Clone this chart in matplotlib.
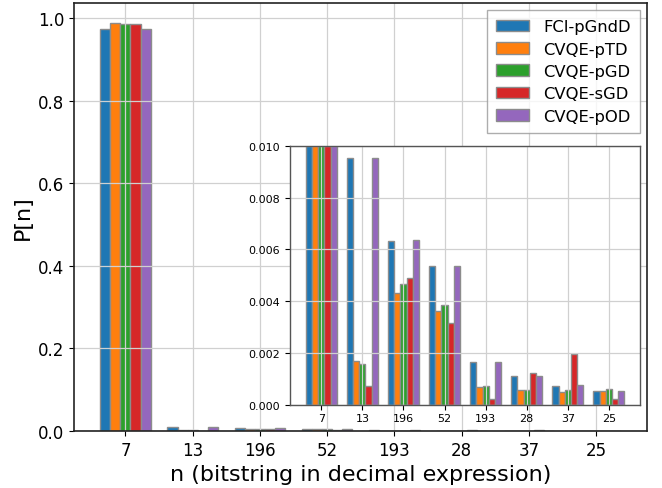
import numpy as np
import matplotlib
matplotlib.use("Agg")
import matplotlib.pyplot as plt

categories = ["7", "13", "196", "52", "193", "28", "37", "25"]
series_names = ["FCI-pGndD", "CVQE-pTD", "CVQE-pGD", "CVQE-sGD", "CVQE-pOD"]
colors = ["#1f77b4", "#ff7f0e", "#2ca02c", "#d62728", "#9467bd"]

fci_pgndd = [0.9748, 0.00953, 0.00634, 0.00537, 0.00167, 0.00113, 0.00072, 0.00053]
cvqe_ptd  = [0.9881, 0.00170, 0.00430, 0.00364, 0.00069, 0.00058, 0.00048, 0.00053]
cvqe_pgd  = [0.9874, 0.00157, 0.00468, 0.00385, 0.00073, 0.00059, 0.00057, 0.00060]
cvqe_sgd  = [0.9875, 0.00072, 0.00489, 0.00317, 0.00024, 0.00122, 0.00196, 0.00024]
cvqe_pod  = [0.9748, 0.00953, 0.00638, 0.00534, 0.00165, 0.00113, 0.00076, 0.00053]

series = [fci_pgndd, cvqe_ptd, cvqe_pgd, cvqe_sgd, cvqe_pod]

fig = plt.figure(figsize=(6.62, 4.89), dpi=100)
ax = fig.add_axes([0.112, 0.1166, 0.866, 0.8754])
x = np.arange(len(categories))
w = 0.15
for i, (name, vals, c) in enumerate(zip(series_names, series, colors)):
    ax.bar(x + (i - 2) * w, vals, w, color=c, edgecolor="#8c8c8c", linewidth=1.0, label=name)
ax.set_xticks(x)
ax.set_xticklabels(categories, fontsize=12)
ax.tick_params(axis="y", labelsize=12)
ax.grid(True, color="#d0d0d0", linewidth=0.9)
ax.set_xlabel("n (bitstring in decimal expression)", fontsize=16)
ax.set_ylabel("P[n]", fontsize=16)
for s in ax.spines.values():
    s.set_linewidth(1.2)
    s.set_color("#222222")
leg = ax.legend(loc="upper right", fontsize=11.75, fancybox=False, edgecolor="#999999",
                borderpad=0.55, labelspacing=0.45, handletextpad=0.9, borderaxespad=0.45)

ins = fig.add_axes([0.438, 0.170, 0.529, 0.530])
for i, (name, vals, c) in enumerate(zip(series_names, series, colors)):
    ins.bar(x + (i - 2) * w, vals, w, color=c, edgecolor="#8c8c8c", linewidth=1.0)
ins.set_ylim(0, 0.010)
ins.set_xticks(x)
ins.set_xticklabels(categories, fontsize=8)
ins.set_yticks([0, 0.002, 0.004, 0.006, 0.008, 0.010])
ins.set_yticklabels(["0.000", "0.002", "0.004", "0.006", "0.008", "0.010"], fontsize=8)
ins.tick_params(axis="x", pad=2)
ins.grid(True, color="#d0d0d0", linewidth=0.9)
for s in ins.spines.values():
    s.set_color("#555555")
    s.set_linewidth(1.0)

fig.savefig("out.png", dpi=100)
